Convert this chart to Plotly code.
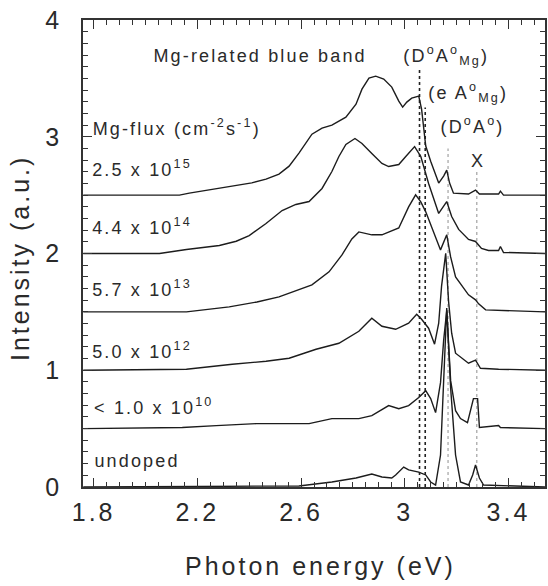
import plotly.graph_objects as go

# ---- spectra: photon energy (eV) and intensity above each trace's own baseline ----
e_2p5e15 = [1.76, 2.131, 2.169, 2.250, 2.335, 2.410, 2.465, 2.515, 2.554, 2.592, 2.642, 2.681, 2.719,
            2.773, 2.812, 2.835, 2.862, 2.888, 2.919, 2.950, 2.977, 2.992, 3.008, 3.027, 3.054, 3.065,
            3.081, 3.100, 3.131, 3.150, 3.162, 3.173, 3.188, 3.246, 3.273, 3.288, 3.362, 3.369, 3.381,
            3.542]
i_2p5e15 = [0, 0, 0.017, 0.045, 0.077, 0.105, 0.137, 0.180, 0.248, 0.360, 0.522, 0.574, 0.600,
            0.668, 0.779, 0.908, 1.002, 1.019, 0.994, 0.925, 0.805, 0.754, 0.797, 0.831, 0.848, 0.737,
            0.420, 0.291, 0.103, 0.163, 0.214, 0.103, 0.017, 0.009, 0.043, 0.009, 0.009, 0.034, 0,
            0]

e_4p4e14 = [1.76, 2.054, 2.158, 2.285, 2.350, 2.400, 2.465, 2.527, 2.580, 2.631, 2.681, 2.719, 2.746,
            2.773, 2.808, 2.835, 2.873, 2.912, 2.938, 2.977, 3.004, 3.038, 3.062, 3.092, 3.131, 3.146,
            3.162, 3.181, 3.208, 3.246, 3.273, 3.296, 3.323, 3.362, 3.369, 3.381, 3.542]
i_4p4e14 = [0, 0, 0.034, 0.069, 0.105, 0.154, 0.257, 0.368, 0.420, 0.445, 0.557, 0.702, 0.831,
            0.934, 0.985, 0.942, 0.857, 0.771, 0.745, 0.762, 0.831, 0.916, 0.831, 0.600, 0.343, 0.394,
            0.445, 0.317, 0.206, 0.120, 0.103, 0.043, 0.026, 0.026, 0.060, 0.009, 0]

e_5p7e13 = [1.76, 2.158, 2.323, 2.430, 2.515, 2.642, 2.708, 2.758, 2.796, 2.823, 2.873, 2.912, 2.977,
            3.015, 3.042, 3.062, 3.081, 3.104, 3.138, 3.162, 3.177, 3.196, 3.246, 3.273, 3.285, 3.312,
            3.542]
i_5p7e13 = [0, 0, 0.043, 0.085, 0.128, 0.231, 0.343, 0.488, 0.625, 0.685, 0.660, 0.660, 0.719,
            0.899, 1.002, 0.942, 0.857, 0.728, 0.531, 0.660, 0.471, 0.300, 0.146, 0.103, 0.069, 0.017,
            0]

e_5p0e12 = [1.76, 2.158, 2.335, 2.465, 2.554, 2.658, 2.746, 2.823, 2.873, 2.912, 2.965, 3.015, 3.046,
            3.065, 3.092, 3.115, 3.131, 3.142, 3.158, 3.169, 3.181, 3.196, 3.246, 3.273, 3.292, 3.362,
            3.542]
i_5p0e12 = [0, 0.009, 0.051, 0.077, 0.103, 0.180, 0.231, 0.334, 0.445, 0.377, 0.351, 0.403, 0.480,
            0.437, 0.360, 0.223, 0.403, 0.720, 1.002, 0.591, 0.317, 0.146, 0.060, 0.086, 0.017, 0.009,
            0]

e_1p0e10 = [1.76, 2.142, 2.273, 2.427, 2.631, 2.719, 2.823, 2.873, 2.938, 2.977, 3.015, 3.054, 3.081,
            3.100, 3.119, 3.138, 3.150, 3.162, 3.177, 3.196, 3.215, 3.242, 3.265, 3.281, 3.288, 3.362,
            3.369, 3.542]
i_1p0e10 = [0, 0.009, 0.026, 0.043, 0.043, 0.086, 0.086, 0.111, 0.197, 0.171, 0.197, 0.266, 0.325,
            0.257, 0.137, 0.394, 0.754, 1.011, 0.411, 0.154, 0.086, 0.051, 0.257, 0.257, 0.009, 0.026,
            0.009, 0]

e_undoped = [1.76, 2.592, 2.719, 2.812, 2.873, 2.912, 2.950, 2.965, 2.996, 3.015, 3.054, 3.081, 3.100,
             3.119, 3.138, 3.150, 3.162, 3.177, 3.196, 3.215, 3.246, 3.262, 3.273, 3.288, 3.304, 3.542]
i_undoped = [0, 0.009, 0.043, 0.077, 0.111, 0.086, 0.077, 0.103, 0.171, 0.146, 0.128, 0.103, 0.043,
             0.017, 0.274, 0.916, 1.533, 0.848, 0.274, 0.043, 0.017, 0.103, 0.188, 0.077, 0.017, 0]

# vertical offset of each spectrum (a.u.)
offsets = [2.5, 2.0, 1.5, 1.0, 0.5, 0.0]

# Mg-flux labels (cm^-2 s^-1) and where they sit (energy, intensity)
flux_labels = ["2.5 x 10<sup>15</sup>", "4.4 x 10<sup>14</sup>", "5.7 x 10<sup>13</sup>",
               "5.0 x 10<sup>12</sup>", "< 1.0 x 10<sup>10</sup>", "undoped"]
flux_label_x = [1.987, 1.987, 1.987, 1.987, 2.033, 1.967]
flux_label_y = [2.73, 2.23, 1.70, 1.17, 0.69, 0.22]

# emission-line markers: energy (eV) and top of the marker line
line_names = ["DA_Mg", "eA_Mg", "DA", "X"]
line_energy = [3.057, 3.079, 3.167, 3.278]
line_top = [3.59, 3.25, 2.90, 2.72]
line_color = ["#222222", "#222222", "#9a9a9a", "#9a9a9a"]

# peak labels above the markers
peak_labels = ["(D<sup>o</sup>A<sup>o</sup><sub>Mg</sub>)", "(e A<sup>o</sup><sub>Mg</sub>)",
               "(D<sup>o</sup>A<sup>o</sup>)", "X"]
peak_label_x = [3.160, 3.246, 3.260, 3.283]
peak_label_y = [3.70, 3.38, 3.10, 2.79]

# axis ticks
x_tickvals = [1.8, 2.2, 2.6, 3.0, 3.4]
x_ticktext = ["1.8", "2.2", "2.6", "3", "3.4"]
y_tickvals = [0, 1, 2, 3, 4]
y_ticktext = ["0", "1", "2", "3", "4"]

FONT = "Liberation Sans, Arial, Helvetica, sans-serif"
INK = "#1c1c1c"
TXT = "#2a2a2a"

series = [(e_2p5e15, i_2p5e15), (e_4p4e14, i_4p4e14), (e_5p7e13, i_5p7e13),
          (e_5p0e12, i_5p0e12), (e_1p0e10, i_1p0e10), (e_undoped, i_undoped)]

fig = go.Figure()
for (ex, iy), off in zip(series, offsets):
    fig.add_trace(go.Scatter(x=ex, y=[v + off for v in iy], mode="lines",
                             line=dict(color=INK, width=1.4),
                             showlegend=False, hoverinfo="skip"))

for en, top, col, nm in zip(line_energy, line_top, line_color, line_names):
    fig.add_shape(type="line", xref="x", yref="y", x0=en, x1=en, y0=0, y1=top,
                  line=dict(color=col, width=1.6 if col == "#222222" else 1.1, dash="dot"),
                  name=nm, layer="below")

annotations = []
annotations.append(dict(text="Mg-related blue band", x=2.442, y=3.69, xref="x", yref="y",
                        showarrow=False, xanchor="center", yanchor="middle",
                        font=dict(size=18, family=FONT, color=TXT)))
annotations.append(dict(text="Mg-flux (cm<sup>-2</sup>s<sup>-1</sup>)", x=2.121, y=3.08,
                        xref="x", yref="y", showarrow=False, xanchor="center", yanchor="middle",
                        font=dict(size=18, family=FONT, color=TXT)))
for t, x, y in zip(flux_labels, flux_label_x, flux_label_y):
    annotations.append(dict(text=t, x=x, y=y, xref="x", yref="y", showarrow=False,
                            xanchor="center", yanchor="middle",
                            font=dict(size=18, family=FONT, color=TXT)))
for t, x, y in zip(peak_labels, peak_label_x, peak_label_y):
    annotations.append(dict(text=t, x=x, y=y, xref="x", yref="y", showarrow=False,
                            xanchor="center", yanchor="middle",
                            font=dict(size=18, family=FONT, color=TXT)))
# axis titles
annotations.append(dict(text="Photon energy (eV)", x=0.513, y=-0.169, xref="paper", yref="paper",
                        showarrow=False, xanchor="center", yanchor="middle",
                        font=dict(size=25, family=FONT, color=TXT)))
annotations.append(dict(text="Intensity (a.u.)", x=-0.1366, y=0.49, xref="paper", yref="paper",
                        showarrow=False, xanchor="center", yanchor="middle", textangle=-90,
                        font=dict(size=25, family=FONT, color=TXT)))

axis_common = dict(showline=True, linecolor="#333333", linewidth=1.5, mirror="allticks",
                   ticks="inside", tickcolor="#333333", tickwidth=1.2, ticklen=9,
                   showgrid=False, zeroline=False,
                   tickfont=dict(size=25, family=FONT, color=TXT))

fig.update_layout(
    width=548, height=586,
    margin=dict(l=83, r=1, t=20, b=99),
    paper_bgcolor="white", plot_bgcolor="white",
    xaxis=dict(range=[1.759, 3.541], tickmode="array", tickvals=x_tickvals, ticktext=x_ticktext,
               ticklabelstandoff=2,
               minor=dict(ticks="inside", ticklen=5, tickcolor="#333333", tickwidth=1,
                          tickmode="linear", tick0=1.8, dtick=0.05, showgrid=False),
               **axis_common),
    yaxis=dict(range=[0, 4], tickmode="array", tickvals=y_tickvals, ticktext=y_ticktext,
               ticklabelstandoff=14,
               minor=dict(ticks="inside", ticklen=5, tickcolor="#333333", tickwidth=1,
                          tickmode="linear", tick0=0, dtick=0.1, showgrid=False),
               **axis_common),
    annotations=annotations,
)

# widen the character spacing of every label on the chart
spacing_js = """
var st = document.createElement('style');
st.textContent = '.main-svg text { letter-spacing: 0.12em; }';
document.head.appendChild(st);
"""
fig.write_html("out.html", post_script=spacing_js)
